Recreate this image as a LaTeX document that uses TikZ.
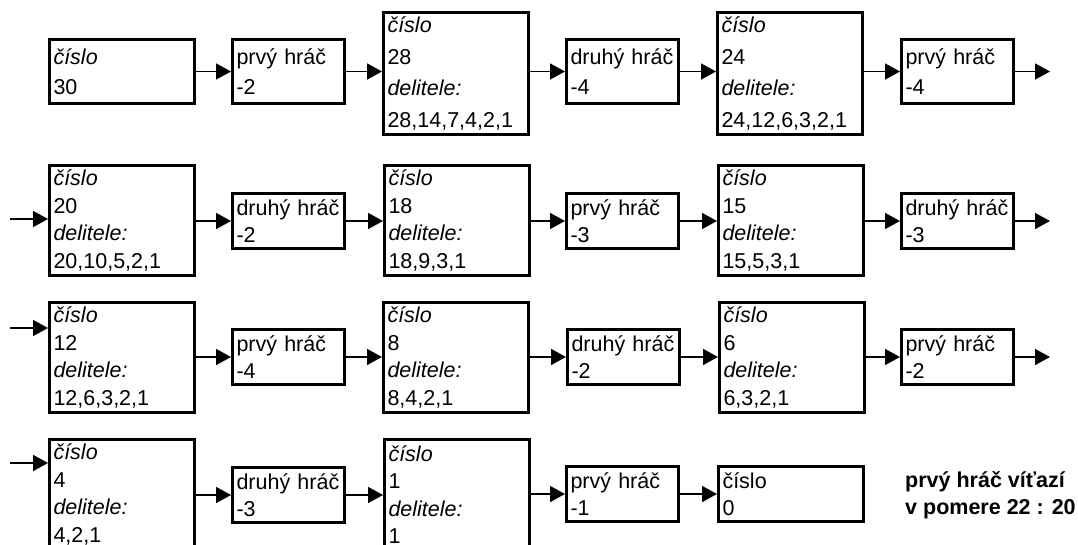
\documentclass[tikz,border=0pt]{standalone}
\usepackage{fontspec}
\setmainfont{Liberation Sans}
\usetikzlibrary{arrows.meta}
\tikzset{
  box/.style={draw, line width=3pt, anchor=north west, inner xsep=4pt, inner ysep=0pt,
    align=left, font=\fontsize{21.5}{27.5}\selectfont},
  bigbox/.style={box, minimum width=145pt, text width=137pt, minimum height=110pt},
  smallbox/.style={box, minimum width=112pt, text width=104pt, minimum height=55pt},
  rowone/.style={font=\fontsize{21.5}{31.5}\selectfont},
  rowonesmall/.style={minimum height=64pt, font=\fontsize{21.5}{30}\selectfont},
  arr/.style={line width=1.6pt, -{Triangle[length=15pt,width=16pt]}},
  result/.style={anchor=west, inner sep=0pt, align=left, font=\fontsize{21.5}{27}\selectfont\bfseries}
}
\begin{document}
\begin{tikzpicture}[x=1pt,y=-1pt]
\useasboundingbox (0,0) rectangle (1078,545);
\clip (0,0) rectangle (1078,545);
% Row 1
\node[bigbox, rowonesmall] (A1) at (48,38) {\textit{číslo}\\30};
\node[smallbox, rowonesmall] (A2) at (231,38) {prvý hráč\\-2};
\node[bigbox, rowone, minimum height=122pt] (A3) at (382,11) {\textit{číslo}\\28\\\textit{delitele:}\\28,14,7,4,2,1};
\node[smallbox, rowonesmall] (A4) at (565,38) {druhý hráč\\-4};
\node[bigbox, rowone, minimum height=122pt] (A5) at (716,11) {\textit{číslo}\\24\\\textit{delitele:}\\24,12,6,3,2,1};
\node[smallbox, rowonesmall] (A6) at (900,38) {prvý hráč\\-4};
\coordinate (A7) at (1050,70);
\draw[arr] (A1.east) -- (A1.east -| A2.west);
\draw[arr] (A2.east) -- (A2.east -| A3.west);
\draw[arr] (A3.east |- A4.west) -- (A4.west);
\draw[arr] (A4.east) -- (A4.east -| A5.west);
\draw[arr] (A5.east |- A6.west) -- (A6.west);
\draw[arr] (A6.east) -- (A6.east -| A7);
% Row 2
\coordinate (B0) at (10,219);
\node[bigbox] (B1) at (48,164) {\textit{číslo}\\20\\\textit{delitele:}\\20,10,5,2,1};
\node[smallbox] (B2) at (231,192) {druhý hráč\\-2};
\node[bigbox] (B3) at (383,164) {\textit{číslo}\\18\\\textit{delitele:}\\18,9,3,1};
\node[smallbox] (B4) at (565,192) {prvý hráč\\-3};
\node[bigbox] (B5) at (717,164) {\textit{číslo}\\15\\\textit{delitele:}\\15,5,3,1};
\node[smallbox] (B6) at (900,192) {druhý hráč\\-3};
\coordinate (B7) at (1050,219);
\draw[arr] (B0) -- (B0 -| B1.west);
\draw[arr] (B1.east |- B2.west) -- (B2.west);
\draw[arr] (B2.east) -- (B2.east -| B3.west);
\draw[arr] (B3.east |- B4.west) -- (B4.west);
\draw[arr] (B4.east) -- (B4.east -| B5.west);
\draw[arr] (B5.east |- B6.west) -- (B6.west);
\draw[arr] (B6.east) -- (B6.east -| B7);
% Row 3
\coordinate (C0) at (10,328);
\node[bigbox] (C1) at (48,301) {\textit{číslo}\\12\\\textit{delitele:}\\12,6,3,2,1};
\node[smallbox] (C2) at (231,328) {prvý hráč\\-4};
\node[bigbox] (C3) at (382,301) {\textit{číslo}\\8\\\textit{delitele:}\\8,4,2,1};
\node[smallbox] (C4) at (566,328) {druhý hráč\\-2};
\node[bigbox] (C5) at (718,301) {\textit{číslo}\\6\\\textit{delitele:}\\6,3,2,1};
\node[smallbox] (C6) at (900,328) {prvý hráč\\-2};
\coordinate (C7) at (1050,356);
\draw[arr] (C0) -- (C0 -| C1.west);
\draw[arr] (C1.east |- C2.west) -- (C2.west);
\draw[arr] (C2.east) -- (C2.east -| C3.west);
\draw[arr] (C3.east |- C4.west) -- (C4.west);
\draw[arr] (C4.east) -- (C4.east -| C5.west);
\draw[arr] (C5.east |- C6.west) -- (C6.west);
\draw[arr] (C6.east) -- (C6.east -| C7);
% Row 4
\coordinate (D0) at (10,463);
\node[bigbox] (D1) at (48,438) {\textit{číslo}\\4\\\textit{delitele:}\\4,2,1};
\node[smallbox] (D2) at (231,466) {druhý hráč\\-3};
\node[bigbox] (D3) at (383,438) {\textit{číslo}\\1\\\textit{delitele:}\\1};
\node[smallbox] (D4) at (565,465) {prvý hráč\\-1};
\node[bigbox, minimum height=55pt] (D5) at (717,465) {číslo\\0};
\draw[arr] (D0) -- (D0 -| D1.west);
\draw[arr] (D1.east |- D2.west) -- (D2.west);
\draw[arr] (D2.east) -- (D2.east -| D3.west);
\draw[arr] (D3.east |- D4.west) -- (D4.west);
\draw[arr] (D4.east) -- (D4.east -| D5.west);
\node[result] (R) at (905,495.5) {prvý hráč víťazí\\v pomere 22 : 20};
\end{tikzpicture}
\end{document}
